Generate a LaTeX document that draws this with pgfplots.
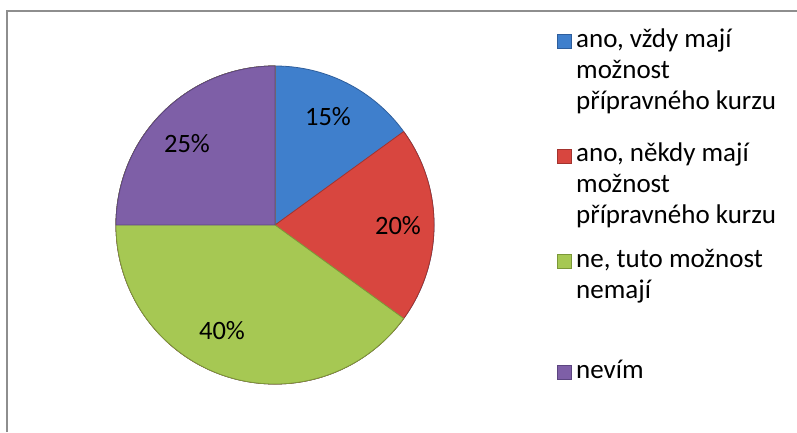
\documentclass[border=0pt]{standalone}
\usepackage{pgfplots}
\pgfplotsset{compat=1.18}
\usepackage{fontspec}
\setmainfont{Carlito}
\definecolor{cblue}{HTML}{3F7FCC}
\definecolor{cblueD}{HTML}{2E5E9C}
\definecolor{cred}{HTML}{D8463F}
\definecolor{credD}{HTML}{A3332E}
\definecolor{cgreen}{HTML}{A6C853}
\definecolor{cgreenD}{HTML}{7B9838}
\definecolor{cpurple}{HTML}{7E5FA7}
\definecolor{cpurpleD}{HTML}{5C4580}
\definecolor{framegray}{HTML}{8E8E8E}
% slice values (percent)
\def\vA{15}\def\vB{20}\def\vC{40}\def\vD{25}
\newcommand{\slice}[4]{% start angle, value, fill, draw
  \pgfmathsetmacro{\endang}{#1-3.6*#2}%
  \fill[#3, draw=#4, line width=0.8bp, line join=round] (axis cs:275,207) -- ++(#1:159bp) arc[start angle=#1, end angle=\endang, radius=159bp] -- cycle;}
\begin{document}
\begin{tikzpicture}[x=1bp,y=1bp]
\useasboundingbox (0,0) rectangle (797,432);
\fill[white] (0,0) rectangle (797,432);
\draw[line width=1.5bp, color=framegray] (7,0) -- (7,421) -- (797,421);
\begin{axis}[at={(0,0)}, anchor=south west, scale only axis, width=797bp, height=432bp,
  xmin=0, xmax=797, ymin=0, ymax=432, hide axis, clip=false]
\slice{90}{\vA}{cblue}{cblueD}
\slice{36}{\vB}{cred}{credD}
\slice{-36}{\vC}{cgreen}{cgreenD}
\slice{-180}{\vD}{cpurple}{cpurpleD}
\begin{scope}[font=\fontsize{26.5bp}{31bp}\selectfont]
\node at (axis cs:328,315) {15\%};
\node at (axis cs:398,206) {20\%};
\node at (axis cs:222,101) {40\%};
\node at (axis cs:187,288) {25\%};
\end{scope}
\begin{scope}[font=\fontsize{27bp}{31bp}\selectfont]
% legend
\fill[cblue, draw=cblueD, line width=0.8bp] (axis cs:557,384) rectangle (axis cs:571,398);
\fill[cred, draw=credD, line width=0.8bp] (axis cs:557,269) rectangle (axis cs:571,283);
\fill[cgreen, draw=cgreenD, line width=0.8bp] (axis cs:557,164) rectangle (axis cs:571,178);
\fill[cpurple, draw=cpurpleD, line width=0.8bp] (axis cs:557,53) rectangle (axis cs:571,67);
\node[anchor=base west, inner sep=0pt] at (axis cs:576,384) {ano, vždy mají};
\node[anchor=base west, inner sep=0pt] at (axis cs:576,353) {možnost};
\node[anchor=base west, inner sep=0pt] at (axis cs:576,322) {přípravného kurzu};
\node[anchor=base west, inner sep=0pt] at (axis cs:576,270) {ano, někdy mají};
\node[anchor=base west, inner sep=0pt] at (axis cs:576,239) {možnost};
\node[anchor=base west, inner sep=0pt] at (axis cs:576,208) {přípravného kurzu};
\node[anchor=base west, inner sep=0pt] at (axis cs:576,165) {ne, tuto možnost};
\node[anchor=base west, inner sep=0pt] at (axis cs:576,134) {nemají};
\node[anchor=base west, inner sep=0pt] at (axis cs:576,54) {nevím};
\end{scope}
\end{axis}
\end{tikzpicture}
\end{document}
